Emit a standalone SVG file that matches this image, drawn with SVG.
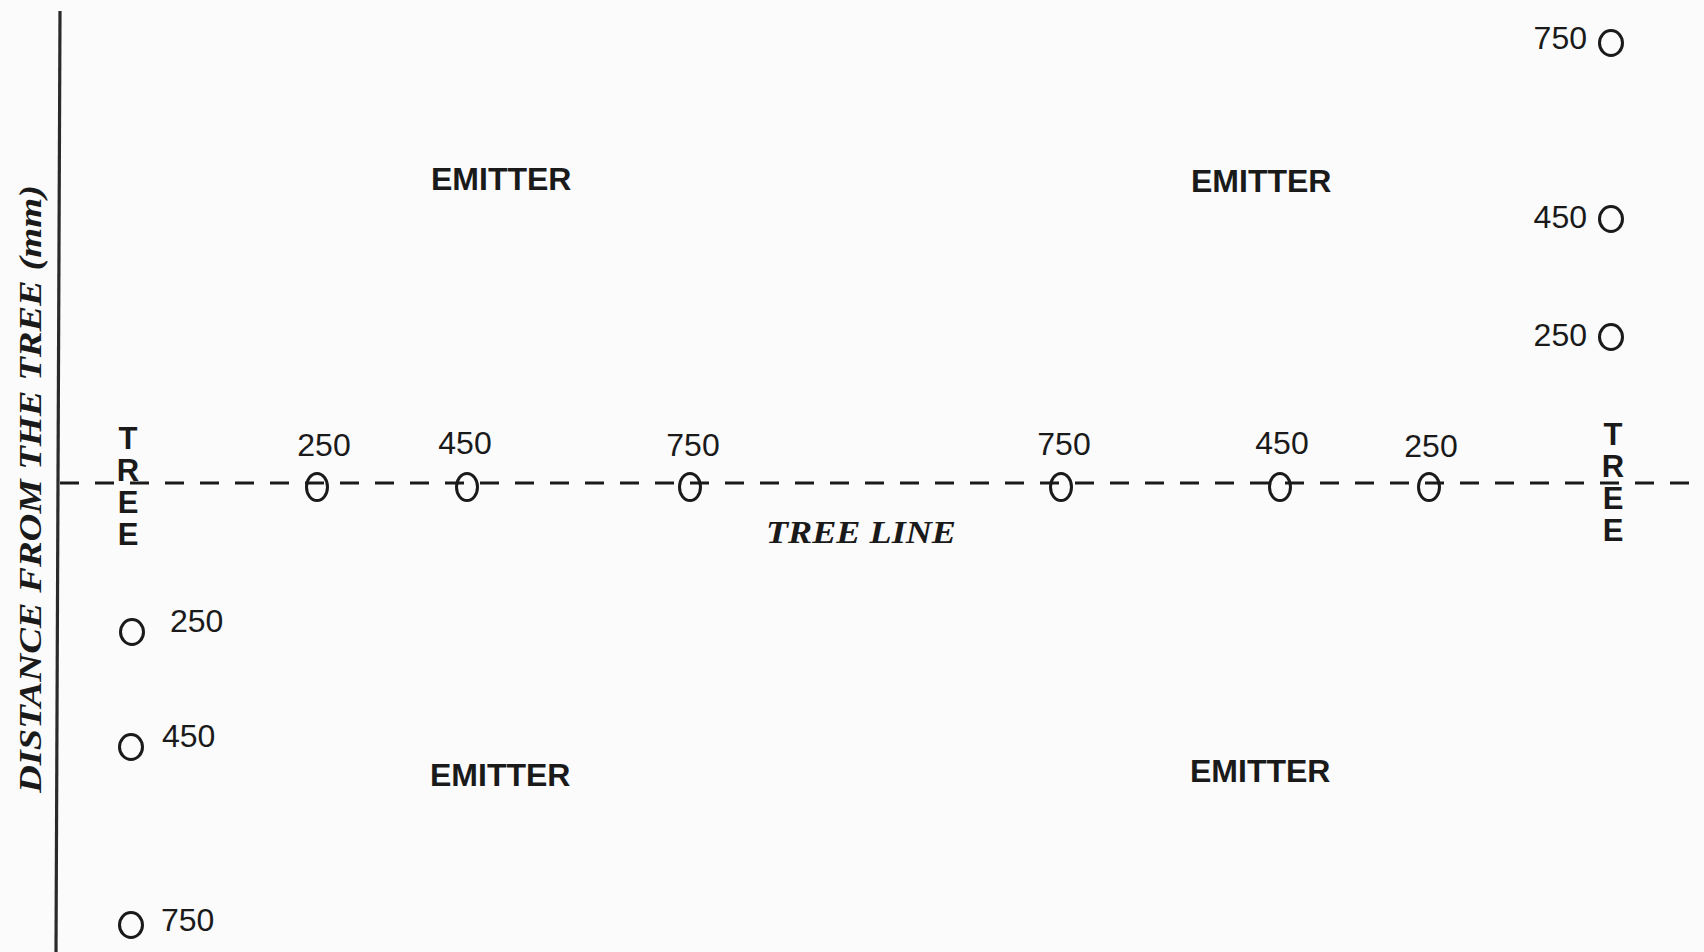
<svg xmlns="http://www.w3.org/2000/svg" width="1704" height="952" viewBox="0 0 1704 952">
<style>
.num{font-family:"Liberation Sans",Arial,sans-serif;font-size:32px;fill:#1a1a1a}
.emit{font-family:"Liberation Sans",Arial,sans-serif;font-size:32px;font-weight:bold;fill:#1a1a1a}
.tree{font-family:"Liberation Sans",Arial,sans-serif;font-size:31px;font-weight:bold;fill:#1a1a1a;writing-mode:vertical-rl;text-orientation:upright;letter-spacing:-3px}
.serif{font-family:"Liberation Serif","Times New Roman",serif;font-weight:bold;font-style:italic;fill:#1a1a1a}
.pt{fill:none;stroke:#1a1a1a;stroke-width:3}
</style>
<rect width="1704" height="952" fill="#fbfbfb"/>
<g id="connectors">
<line x1="60" y1="11" x2="56" y2="952" stroke="#2a2a2a" stroke-width="3.2"/>
<line x1="60" y1="483" x2="1704" y2="483" stroke="#1a1a1a" stroke-width="3" stroke-dasharray="19 16"/>
</g>
<g id="axis-title">
<text class="serif" font-size="32" text-anchor="middle" textLength="608" lengthAdjust="spacingAndGlyphs" transform="translate(41,489) rotate(-90)">DISTANCE FROM THE TREE (mm)</text>
</g>
<g id="tree-line-label">
<text class="serif" x="766" y="543" font-size="32" textLength="190" lengthAdjust="spacingAndGlyphs">TREE LINE</text>
</g>
<g id="tree-left">
<text class="tree" x="128" y="421">TREE</text>
</g>
<g id="tree-right">
<text class="tree" x="1613" y="417">TREE</text>
</g>
<g id="emitter-1"><text class="emit" x="431" y="190">EMITTER</text></g>
<g id="emitter-2"><text class="emit" x="1191" y="192">EMITTER</text></g>
<g id="emitter-3"><text class="emit" x="430" y="786">EMITTER</text></g>
<g id="emitter-4"><text class="emit" x="1190" y="782">EMITTER</text></g>
<g id="line-points">
<ellipse class="pt" cx="317" cy="487" rx="10.5" ry="13.5"/>
<ellipse class="pt" cx="467" cy="487" rx="10.5" ry="13.5"/>
<ellipse class="pt" cx="690" cy="487" rx="10.5" ry="13.5"/>
<ellipse class="pt" cx="1061" cy="487" rx="10.5" ry="13.5"/>
<ellipse class="pt" cx="1280" cy="487" rx="10.5" ry="13.5"/>
<ellipse class="pt" cx="1429" cy="487" rx="10.5" ry="13.5"/>
<text class="num" x="324" y="456" text-anchor="middle">250</text>
<text class="num" x="465" y="454" text-anchor="middle">450</text>
<text class="num" x="693" y="456" text-anchor="middle">750</text>
<text class="num" x="1064" y="455" text-anchor="middle">750</text>
<text class="num" x="1282" y="454" text-anchor="middle">450</text>
<text class="num" x="1431" y="457" text-anchor="middle">250</text>
</g>
<g id="right-points">
<ellipse class="pt" cx="1611" cy="43" rx="11.5" ry="12.5"/>
<ellipse class="pt" cx="1611" cy="219" rx="11.5" ry="12.5"/>
<ellipse class="pt" cx="1611" cy="337" rx="11.5" ry="12.5"/>
<text class="num" x="1587" y="49" text-anchor="end">750</text>
<text class="num" x="1587" y="228" text-anchor="end">450</text>
<text class="num" x="1587" y="346" text-anchor="end">250</text>
</g>
<g id="left-points">
<ellipse class="pt" cx="132" cy="632" rx="11.5" ry="12.5"/>
<ellipse class="pt" cx="131" cy="747" rx="11.5" ry="12.5"/>
<ellipse class="pt" cx="131" cy="925" rx="11.5" ry="12.5"/>
<text class="num" x="170" y="632">250</text>
<text class="num" x="162" y="747">450</text>
<text class="num" x="161" y="931">750</text>
</g>
</svg>
